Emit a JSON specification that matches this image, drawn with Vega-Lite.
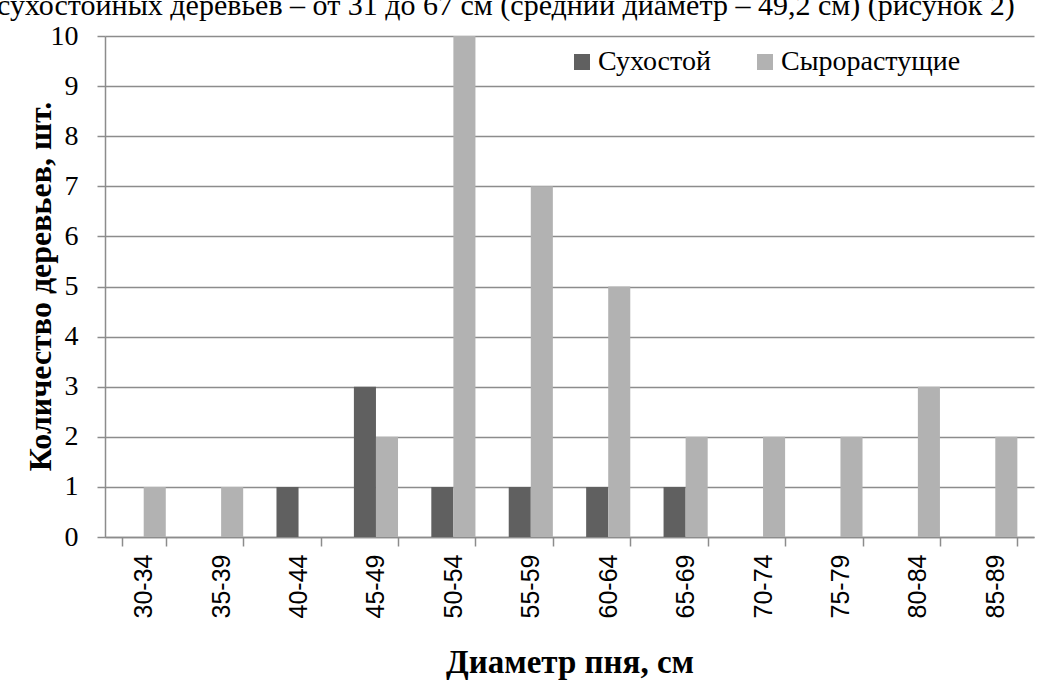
{
  "$schema": "https://vega.github.io/schema/vega-lite/v6.json",
  "width": 929,
  "height": 501,
  "autosize": "none",
  "padding": {"left": 105, "top": 36, "right": 19, "bottom": 145},
  "background": "white",
  "title": {
    "text": "сухостойных деревьев – от 31 до 67 см (средний диаметр – 49,2 см) (рисунок 2)",
    "anchor": "start",
    "frame": "group",
    "dx": -108,
    "dy": 25,
    "offset": 2,
    "baseline": "alphabetic",
    "font": "Liberation Serif",
    "fontSize": 30,
    "fontWeight": "normal",
    "color": "black"
  },
  "data": {
    "values": [
      {"d": "30-34", "s": "Сухостой", "n": 0},
      {"d": "30-34", "s": "Сырорастущие", "n": 1},
      {"d": "35-39", "s": "Сухостой", "n": 0},
      {"d": "35-39", "s": "Сырорастущие", "n": 1},
      {"d": "40-44", "s": "Сухостой", "n": 1},
      {"d": "40-44", "s": "Сырорастущие", "n": 0},
      {"d": "45-49", "s": "Сухостой", "n": 3},
      {"d": "45-49", "s": "Сырорастущие", "n": 2},
      {"d": "50-54", "s": "Сухостой", "n": 1},
      {"d": "50-54", "s": "Сырорастущие", "n": 10},
      {"d": "55-59", "s": "Сухостой", "n": 1},
      {"d": "55-59", "s": "Сырорастущие", "n": 7},
      {"d": "60-64", "s": "Сухостой", "n": 1},
      {"d": "60-64", "s": "Сырорастущие", "n": 5},
      {"d": "65-69", "s": "Сухостой", "n": 1},
      {"d": "65-69", "s": "Сырорастущие", "n": 2},
      {"d": "70-74", "s": "Сухостой", "n": 0},
      {"d": "70-74", "s": "Сырорастущие", "n": 2},
      {"d": "75-79", "s": "Сухостой", "n": 0},
      {"d": "75-79", "s": "Сырорастущие", "n": 2},
      {"d": "80-84", "s": "Сухостой", "n": 0},
      {"d": "80-84", "s": "Сырорастущие", "n": 3},
      {"d": "85-89", "s": "Сухостой", "n": 0},
      {"d": "85-89", "s": "Сырорастущие", "n": 2}
    ]
  },
  "mark": {"type": "bar"},
  "encoding": {
    "x": {
      "field": "d",
      "type": "nominal",
      "sort": null,
      "scale": {"paddingInner": 0.43, "paddingOuter": 0.215},
      "axis": {
        "title": "Диаметр пня, см",
        "titleFont": "Liberation Serif",
        "titleFontSize": 33,
        "titleFontWeight": "bold",
        "titleColor": "black",
        "titleBaseline": "alphabetic",
        "titleY": 135,
        "labelAngle": -90,
        "labelFont": "Liberation Sans",
        "labelFontSize": 25,
        "labelColor": "black",
        "labelPadding": 8,
        "tickBand": "extent",
        "tickSize": 9,
        "tickColor": "#8c8c8c",
        "tickWidth": 1.5,
        "domainColor": "#8c8c8c",
        "domainWidth": 1.5,
        "grid": false
      }
    },
    "xOffset": {"field": "s", "type": "nominal", "sort": ["Сухостой", "Сырорастущие"]},
    "y": {
      "field": "n",
      "type": "quantitative",
      "scale": {"domain": [0, 10], "nice": false},
      "axis": {
        "title": "Количество деревьев, шт.",
        "titleFont": "Liberation Serif",
        "titleFontSize": 32,
        "titleFontWeight": "bold",
        "titleColor": "black",
        "titleX": -65,
        "titleY": 250,
        "titleAngle": -90,
        "titleBaseline": "middle",
        "titleAlign": "center",
        "values": [0, 1, 2, 3, 4, 5, 6, 7, 8, 9, 10],
        "labelOverlap": false,
        "labelFont": "Liberation Serif",
        "labelFontSize": 28,
        "labelColor": "black",
        "labelPadding": 19,
        "tickSize": 8,
        "tickColor": "#8c8c8c",
        "tickWidth": 1.5,
        "domainColor": "#8c8c8c",
        "domainWidth": 1.5,
        "grid": true,
        "gridColor": "#8c8c8c",
        "gridWidth": 1.5
      }
    },
    "color": {
      "field": "s",
      "type": "nominal",
      "sort": ["Сухостой", "Сырорастущие"],
      "scale": {"domain": ["Сухостой", "Сырорастущие"], "range": ["#606060", "#b2b2b2"]},
      "legend": {
        "title": null,
        "orient": "none",
        "direction": "horizontal",
        "legendX": 463,
        "legendY": 12,
        "symbolType": "square",
        "symbolSize": 256,
        "symbolStrokeWidth": 0,
        "labelFont": "Liberation Serif",
        "labelFontSize": 28,
        "labelColor": "black",
        "labelOffset": 2,
        "labelLimit": 0,
        "columnPadding": 40
      }
    }
  },
  "config": {
    "view": {"stroke": null},
    "title": {"font": "Liberation Serif", "fontWeight": "normal"}
  }
}
